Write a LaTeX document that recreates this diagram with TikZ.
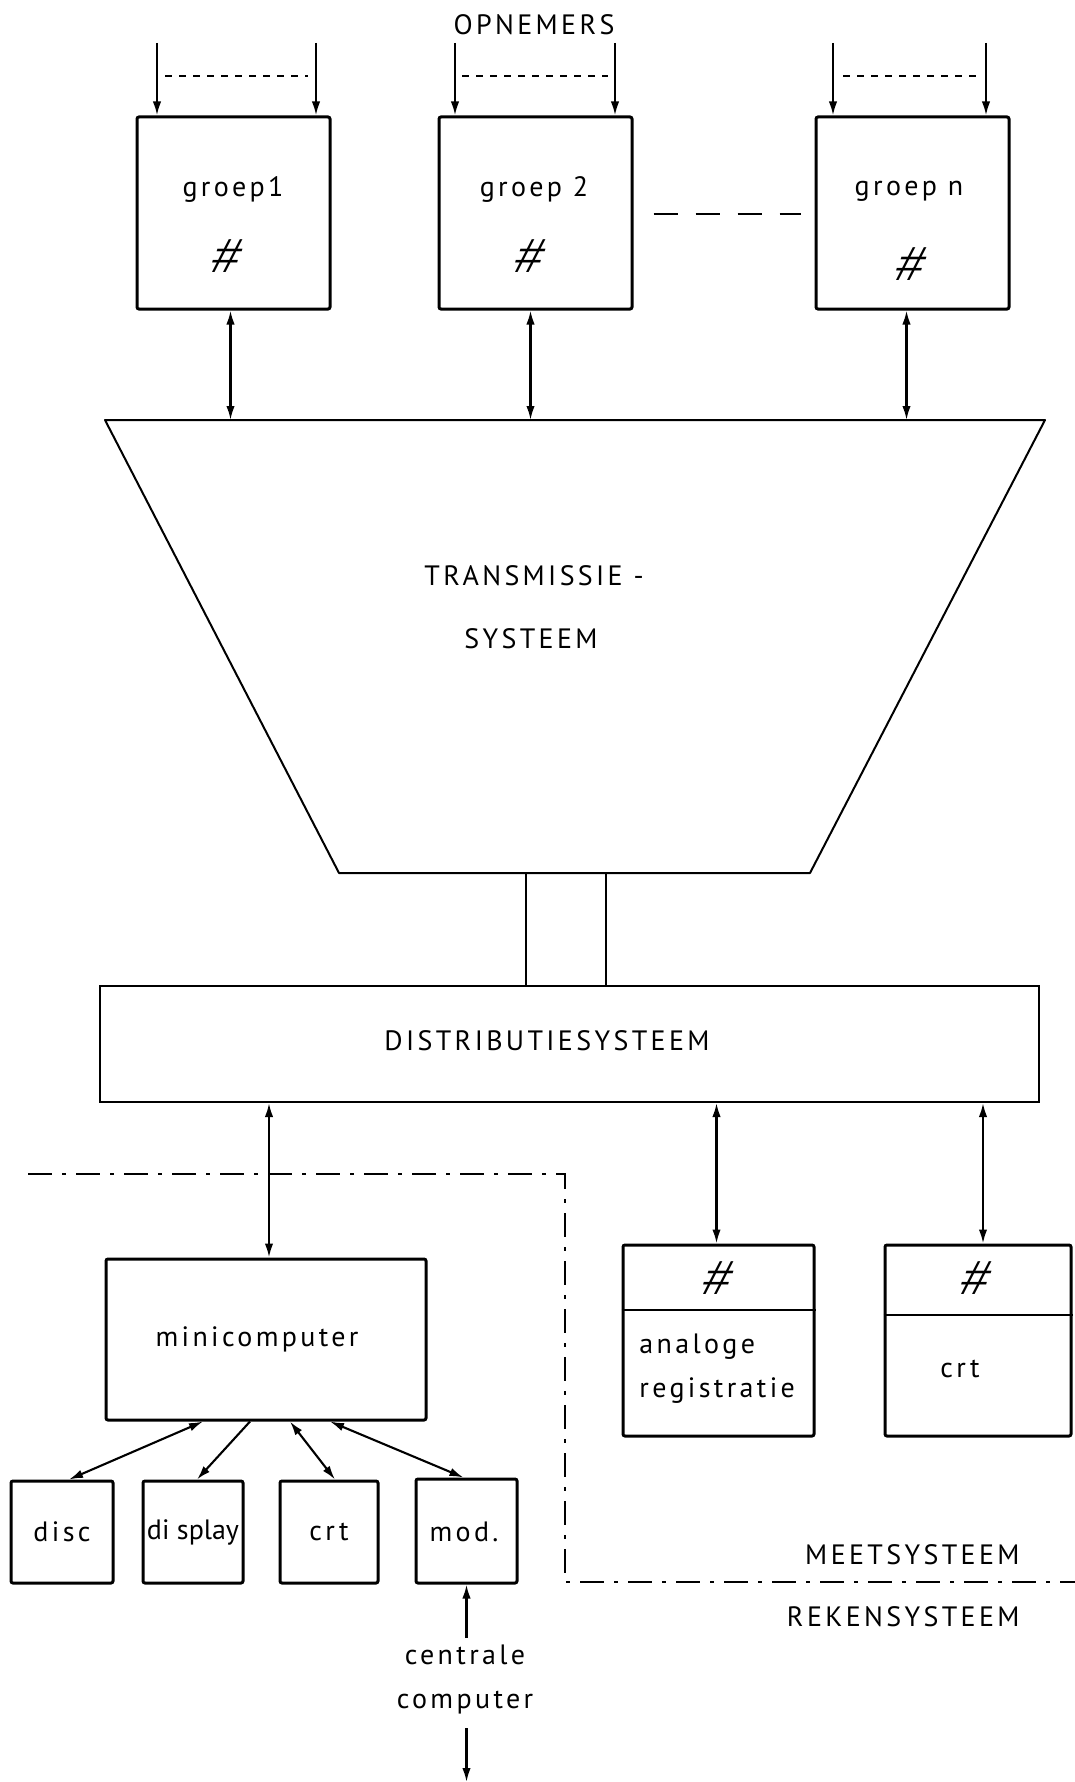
\documentclass[tikz,border=0pt]{standalone}
\usepackage{fontspec}
\setmainfont{PT Sans}[LetterSpace=12]
\newfontfamily\hashfont{Liberation Sans}[FakeSlant=0.3]
\usetikzlibrary{arrows.meta}
\begin{document}
\begin{tikzpicture}[x=0.5pt,y=-0.5pt,
  font=\fontsize{14pt}{22pt}\selectfont,
  box/.style={draw, line width=1.5pt, rounded corners=1pt, inner sep=0pt},
  conn/.style={line width=1.05pt},
  tip/.tip={Latex[length=7pt,width=4.2pt]},
  both/.style={conn,{tip}-{tip}},
  fwd/.style={conn,-{tip}},
  hash/.style={font=\hashfont\fontsize{24pt}{24pt}\selectfont},
  dashdot/.style={line width=0.9pt, dash pattern=on 12pt off 5pt on 2pt off 5pt},
  lbl/.style={inner sep=0pt}]
\useasboundingbox (0,0) rectangle (1075,1782);

% sensor groups
\node[lbl] (opn) at (534,25) {OPNEMERS};
\node[box, minimum width=96.5pt, minimum height=96pt] (g1) at (233.5,213) {};
\node[box, minimum width=96.5pt, minimum height=96pt] (g2) at (535.5,213) {};
\node[box, minimum width=96.5pt, minimum height=96pt] (gn) at (912.5,213) {};
\node[lbl] (g1t) at (233,189) {groep1};
\node[lbl] (g2t) at (534,189) {groep 2};
\node[lbl] (gnt) at (909,191) {groep n};
\node[lbl, hash] (g1h) at (223,256) {\#};
\node[lbl, hash] (g2h) at (526,256) {\#};
\node[lbl, hash] (gnh) at (907,264) {\#};

% sensor inputs
\coordinate (i1a) at (157,43); \coordinate (i1b) at (316,43);
\coordinate (i2a) at (455,43); \coordinate (i2b) at (615,43);
\coordinate (ina) at (833,43); \coordinate (inb) at (986,43);
\foreach \c/\g in {i1a/g1,i1b/g1,i2a/g2,i2b/g2,ina/gn,inb/gn}
  \draw[fwd] (\c) -- (\c |- \g.north);
\draw[conn, line width=0.7pt, dash pattern=on 3.5pt off 3.5pt] (165,76) -- (308,76);
\draw[conn, line width=0.7pt, dash pattern=on 3.5pt off 3.5pt] (462,76) -- (608,76);
\draw[conn, line width=0.7pt, dash pattern=on 3.5pt off 3.5pt] (843,76) -- (978,76);
\draw[conn, dash pattern=on 12pt off 9pt] (g2.east |- 0,214) ++(20,0) coordinate (dl) -- (801,214) coordinate (dr);

% transmission system
\coordinate (tl) at (105,420); \coordinate (tr) at (1045,420);
\coordinate (br) at (810,873); \coordinate (bl) at (339,873);
\draw[line width=1pt, line join=round] (tl) -- (tr) -- (br) -- (bl) -- cycle;
\node[lbl] (trans1) at (534,576) {TRANSMISSIE -};
\node[lbl] (trans2) at (531,639) {SYSTEEM};
\draw[both] ([xshift=-1.5pt]g1.south) -- ([xshift=-1.5pt]g1.south |- tl);
\draw[both] ([xshift=-2.5pt]g2.south) -- ([xshift=-2.5pt]g2.south |- tl);
\draw[both] ([xshift=-3pt]gn.south) -- ([xshift=-3pt]gn.south |- tl);

% distribution system
\node[draw, line width=1pt, minimum width=469.5pt, minimum height=58pt, inner sep=0pt] (dist) at (569.5,1044) {};
\node[lbl] (distt) at (547,1041) {DISTRIBUTIESYSTEEM};
\coordinate (la) at (526,873); \coordinate (lb) at (606,873);
\draw[line width=0.9pt] (la) -- (la |- dist.north);
\draw[line width=0.9pt] (lb) -- (lb |- dist.north);

% boundary between measuring and computing system
\draw[dashdot] (28,1174) -- (565,1174) -- (565,1582) -- (1075,1582);
\node[lbl, anchor=east] (meet) at (1020,1555) {MEETSYSTEEM};
\node[lbl, anchor=east] (reken) at (1020,1617) {REKENSYSTEEM};

% minicomputer and peripherals
\node[box, minimum width=160pt, minimum height=80.5pt] (mini) at (266,1339.5) {};
\node[lbl] (minit) at (257,1339) {minicomputer};
\draw[both] ([xshift=1.5pt]mini.north) -- ([xshift=1.5pt]mini.north |- dist.south);

\node[box, minimum width=51pt, minimum height=51pt] (disc) at (62,1532) {};
\node[box, minimum width=50pt, minimum height=51pt] (disp) at (193,1532) {};
\node[box, minimum width=49pt, minimum height=51pt] (crt) at (329,1532) {};
\node[box, minimum width=50.5pt, minimum height=52pt] (mod) at (466.5,1531) {};
\node[lbl] (disct) at (62,1532) {disc};
\node[lbl, font=\fontsize{14pt}{22pt}\addfontfeature{LetterSpace=0}\selectfont] (dispt) at (193,1532) {di splay};
\node[lbl] (crtt) at (329,1532) {crt};
\node[lbl] (modt) at (464,1532) {mod.};

\draw[both] ([xshift=-31.5pt]mini.south) -- ([xshift=3.5pt]disc.north);
\draw[fwd] ([xshift=-8pt]mini.south) -- ([xshift=2pt]disp.north);
\draw[both] ([xshift=12pt]mini.south) -- ([xshift=3pt]crt.north);
\draw[both] ([xshift=32pt]mini.south) -- ([xshift=-1.5pt]mod.north);

% link to the central computer
\node[lbl, align=center] (cc) at (465,1679) {centrale\\computer};
\coordinate (ccb) at (466,1782);
\draw[fwd] ([yshift=3pt]cc.north -| mod.south) coordinate (cct) -- (mod.south);
\draw[fwd] (cc.south -| mod.south) ++(0,14) -- (ccb -| mod.south);

% recording and display units
\node[box, minimum width=95.5pt, minimum height=95.5pt] (an) at (718.5,1340.5) {};
\draw[line width=1.3pt] (an.west |- 0,1310) -- (an.east |- 0,1310);
\node[lbl, hash] (anh) at (714,1278) {\#};
\node[lbl, align=left, anchor=west] (ant) at (639,1369) {analoge\\registratie};
\draw[both] ([xshift=-1pt]an.north) -- ([xshift=-1pt]an.north |- dist.south);

\node[box, minimum width=93pt, minimum height=95.5pt] (crt2) at (978,1340.5) {};
\draw[line width=1.3pt] (crt2.west |- 0,1315) -- (crt2.east |- 0,1315);
\node[lbl, hash] (crt2h) at (972,1278) {\#};
\node[lbl] (crt2t) at (960,1369) {crt};
\draw[both] ([xshift=2.5pt]crt2.north) -- ([xshift=2.5pt]crt2.north |- dist.south);
\end{tikzpicture}
\end{document}
